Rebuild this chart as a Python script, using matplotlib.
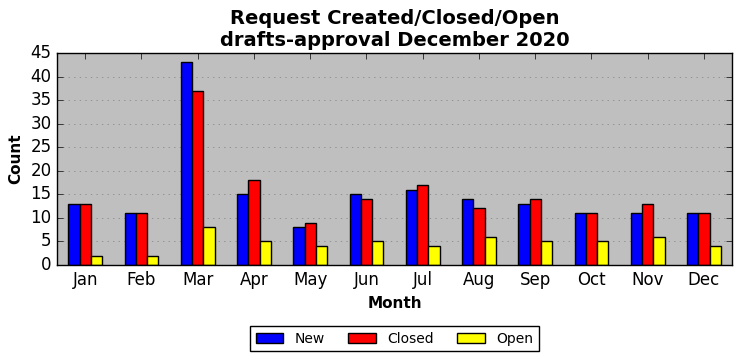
import matplotlib
matplotlib.use("Agg")
import matplotlib.pyplot as plt
import numpy as np

plt.style.use('classic')

months = ["Jan", "Feb", "Mar", "Apr", "May", "Jun", "Jul", "Aug", "Sep", "Oct", "Nov", "Dec"]
new = [13, 11, 43, 15, 8, 15, 16, 14, 13, 11, 11, 11]
closed = [13, 11, 37, 18, 9, 14, 17, 12, 14, 11, 13, 11]
open_ = [2, 2, 8, 5, 4, 5, 4, 6, 5, 5, 6, 4]

fig = plt.figure(figsize=(7.41, 3.61), dpi=100)
ax = fig.add_axes([57/741, 1-265/361, (732-57)/741, (265-53)/361])
x = np.arange(len(months))
w = 0.2
ax.bar(x - w, new, w, color="blue", edgecolor="black", label="New", align="center")
ax.bar(x, closed, w, color="red", edgecolor="black", label="Closed", align="center")
ax.bar(x + w, open_, w, color="yellow", edgecolor="black", label="Open", align="center")
ax.set_facecolor("#bfbfbf")
ax.set_xlim(-0.5, 11.5)
ax.set_ylim(0, 45)
ax.set_yticks(range(0, 46, 5))
ax.set_xticks(x)
ax.set_xticklabels(months)
ax.yaxis.grid(True, linestyle=":", color="#808080")
ax.set_axisbelow(True)
ax.set_xlabel("Month", fontweight="bold", fontsize=11)
ax.set_ylabel("Count", fontweight="bold", fontsize=11)
ax.set_title("Request Created/Closed/Open\ndrafts-approval December 2020", fontweight="bold", fontsize=14)
ax.legend(loc="upper center", bbox_to_anchor=(0.5, -0.255), ncol=3, fontsize=10,
          frameon=True, columnspacing=1.7, borderpad=0.4)
fig.savefig("out.png", dpi=100)
